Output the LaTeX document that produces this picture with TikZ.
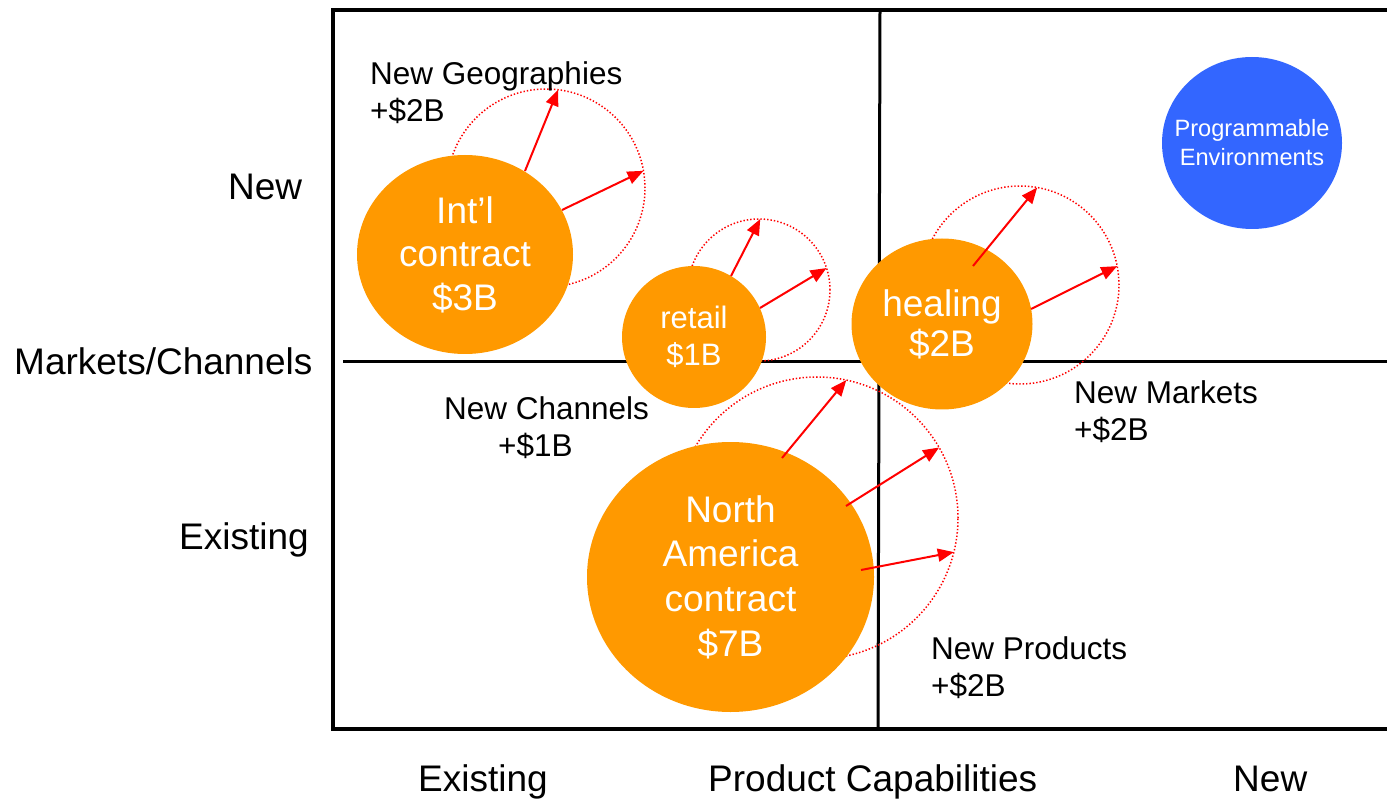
\documentclass[tikz,border=0pt]{standalone}
\usepackage{fontspec}
\setmainfont{Liberation Sans}
\usetikzlibrary{shapes.geometric,arrows.meta}
\definecolor{bubbleorange}{RGB}{255,153,0}
\definecolor{bubbleblue}{RGB}{51,102,255}
\begin{document}
\begin{tikzpicture}[x=1pt,y=-1pt,
  frame/.style={line width=3.5pt,line join=miter},
  divider/.style={line width=3pt},
  bubble/.style={ellipse,fill=bubbleorange,draw=none,inner sep=0pt,text=white,align=center},
  reach/.style={circle,draw=red,line width=1.5pt,dash pattern=on 1.4pt off 2pt,inner sep=0pt,outer sep=0pt},
  growth/.style={draw=red,line width=2pt,-{Triangle[length=16pt,width=13pt]}},
  axislabel/.style={font=\fontsize{37}{44}\selectfont,inner sep=0pt,anchor=base west},
  note/.style={font=\fontsize{31.5}{37}\selectfont,inner sep=0pt,align=left,anchor=north west}]
\useasboundingbox (0,0) rectangle (1387,799);

% quadrant frame
\coordinate (tl) at (333,10);
\coordinate (tr) at (1387,10);
\coordinate (bl) at (333,729);
\coordinate (br) at (1387,729);
\draw[frame] (tr) -- (tl) -- (bl) -- (br);
\coordinate (vtop) at (880,10);
\coordinate (vbot) at (878,729);
\coordinate (hleft) at (343,362);
\coordinate (hright) at (1387,362);
\draw[divider] (vtop) -- (vbot);
\draw[divider] (hleft) -- (hright);

% reach of each business (dotted)
\node[reach,minimum size=198pt] (intlreach) at (546,188) {};
\node[reach,minimum size=142pt] (retailreach) at (759,290) {};
\node[reach,minimum size=198pt] (healreach) at (1020,285) {};
\node[reach,minimum size=282pt] (nareach) at (817,518) {};

% businesses
\node[bubble,minimum width=216pt,minimum height=199pt,font=\fontsize{37}{43.5}\selectfont] (intl) at (465,254.5) {Int’l\\contract\\\$3B};
\node[bubble,minimum width=144pt,minimum height=142pt,font=\fontsize{31}{37}\selectfont] (retail) at (694,337) {retail\\\$1B};
\node[bubble,minimum width=181pt,minimum height=171pt,font=\fontsize{37}{40}\selectfont] (heal) at (942,324) {healing\\\$2B};
\node[bubble,minimum width=287pt,minimum height=270pt,font=\fontsize{37}{44.7}\selectfont] (na) at (730.5,577) {North\\America\\contract\\\$7B};
\node[bubble,fill=bubbleblue,inner xsep=-40pt,minimum width=180pt,minimum height=172pt,font=\fontsize{23.6}{29}\selectfont] (prog) at (1252,143) {Programmable\\Environments};

% growth arrows
\coordinate (intl-g1) at (525,171);
\coordinate (intl-g2) at (562,210);
\coordinate (retail-g1) at (731,276);
\coordinate (retail-g2) at (760,308);
\coordinate (heal-g1) at (973,266);
\coordinate (heal-g2) at (1031,309);
\coordinate (na-g1) at (782,458);
\coordinate (na-g2) at (846,506);
\coordinate (na-g3) at (861,570);
\draw[growth] (intl-g1) -- (intlreach.83.6);
\draw[growth] (intl-g2) -- (intlreach.10.3);
\draw[growth] (retail-g1) -- (retailreach.89);
\draw[growth] (retail-g2) -- (retailreach.18);
\draw[growth] (heal-g1) -- (healreach.80);
\draw[growth] (heal-g2) -- (healreach.11);
\draw[growth] (na-g1) -- (nareach.78.3);
\draw[growth] (na-g2) -- (nareach.30.6);
\draw[growth] (na-g3) -- (nareach.-14);

% growth notes
\node[note] (geo) at (370,61.5) {New Geographies\\+\$2B};
\node[note] (chan) at (444,396.5) {New Channels\\\hspace*{54pt}+\$1B};
\node[note] (mkt) at (1074,380.5) {New Markets\\+\$2B};
\node[note] (prod) at (931,636.5) {New Products\\+\$2B};

% axis labels
\node[axislabel] (ynew) at (228,200) {New};
\node[axislabel] (ytitle) at (14,375) {Markets/Channels};
\node[axislabel] (yold) at (179,549) {Existing};
\node[axislabel] (xold) at (418,791) {Existing};
\node[axislabel] (xtitle) at (708,791) {Product Capabilities};
\node[axislabel] (xnew) at (1233,791) {New};
\end{tikzpicture}
\end{document}
